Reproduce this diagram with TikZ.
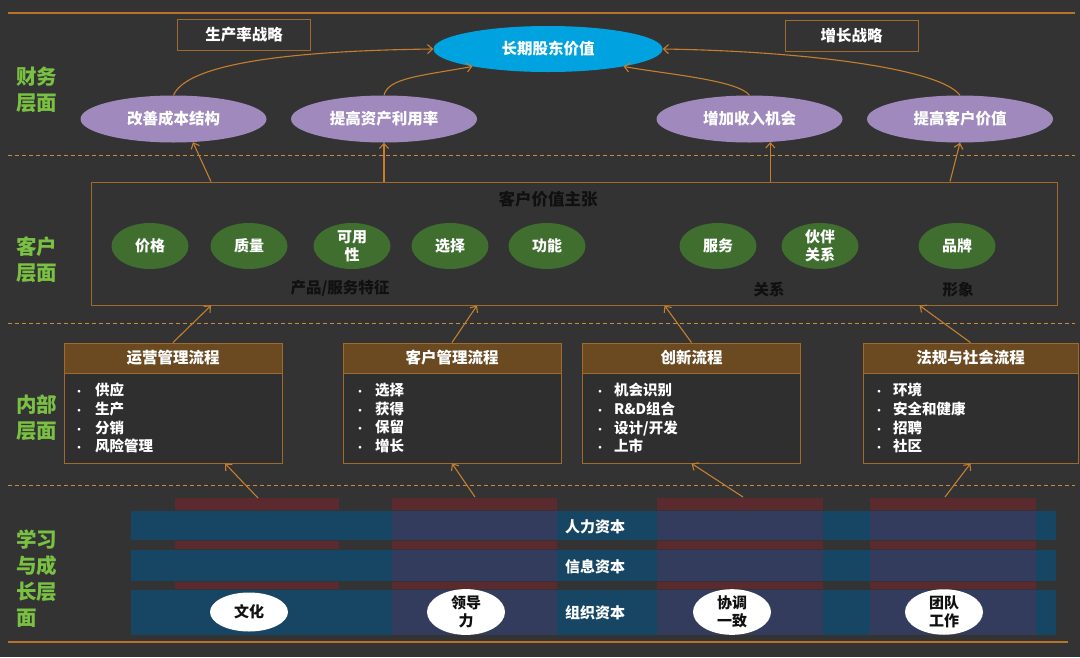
\documentclass[tikz,border=0pt]{standalone}
\usepackage{fontspec}
\setmainfont{Noto Sans CJK SC}
\usetikzlibrary{shapes.geometric,arrows.meta,calc}
\definecolor{bgC}{HTML}{333333}
\definecolor{lineC}{HTML}{B8732B}
\definecolor{dashC}{HTML}{C98A3E}
\definecolor{arrC}{HTML}{C47E2E}
\definecolor{cyanC}{HTML}{00A3E0}
\definecolor{purpC}{HTML}{9F89BD}
\definecolor{greenC}{HTML}{3F6E2F}
\definecolor{labC}{HTML}{7AC143}
\definecolor{headC}{HTML}{6B4A22}
\definecolor{boxC}{HTML}{A06A2C}
\definecolor{bodyC}{HTML}{2F2F2F}
\definecolor{tealC}{HTML}{164664}
\definecolor{violC}{HTML}{343C5E}
\definecolor{redC}{HTML}{5A2A2E}
\definecolor{darkT}{HTML}{101010}
\newcommand{\bitem}[1]{\makebox[#1][l]{\hspace{2pt}{\fontsize{10}{10}\selectfont •}}}
\begin{document}
\begin{tikzpicture}[x=1pt,y=-1pt,
  every node/.style={font=\bfseries},
  layerlab/.style={anchor=west,align=left,text=labC,inner sep=0,font=\bfseries\fontsize{20.5}{26}\selectfont},
  strat/.style={draw=boxC,line width=0.9pt,minimum width=133pt,minimum height=31pt,inner sep=0,text=white,font=\bfseries\fontsize{15.5}{18}\selectfont},
  finell/.style={ellipse,fill=purpC,text=white,minimum width=186pt,minimum height=47pt,inner sep=0,font=\bfseries\fontsize{15.5}{18}\selectfont},
  valell/.style={ellipse,fill=greenC,text=white,minimum width=77pt,minimum height=46pt,inner sep=0,align=center,font=\bfseries\fontsize{15}{18}\selectfont},
  darklab/.style={text=darkT,inner sep=0,font=\bfseries\fontsize{15.5}{18}\selectfont},
  procbox/.style={draw=boxC,line width=0.9pt,fill=bodyC,minimum width=218pt,minimum height=120pt,inner sep=0},
  prochead/.style={draw=boxC,line width=0.9pt,fill=headC,minimum width=218pt,minimum height=30pt,inner sep=0,text=white,font=\bfseries\fontsize{15.5}{18}\selectfont},
  bullets/.style={anchor=north west,align=left,inner sep=0,text=white,font=\bfseries\fontsize{14.5}{18.7}\selectfont},
  rowlab/.style={text=white,inner sep=0,font=\bfseries\fontsize{15}{18}\selectfont},
  capell/.style={ellipse,fill=white,text=darkT,minimum width=78pt,minimum height=39pt,inner sep=0,align=center,font=\bfseries\fontsize{15}{18}\selectfont},
  conn/.style={draw=arrC,line width=1.1pt,-{Straight Barb[length=5pt,width=9pt]}},
  sepline/.style={draw=dashC,line width=0.9pt,dash pattern=on 4pt off 3pt}
]
\useasboundingbox (0,0) rectangle (1080,657);
\fill[bgC] (0,0) rectangle (1080,657);

% separators
\draw[lineC,line width=1.2pt] (8,13) -- (1075,13);
\draw[sepline] (8,155) -- (1075,155);
\draw[sepline] (8,323) -- (1075,323);
\draw[sepline] (8,485) -- (1075,485);
\draw[lineC,line width=1.2pt] (8,642) -- (1068,642);

% layer labels
\node[layerlab] (lf) at (16,90) {财务\\层面};
\node[layerlab] (lc) at (16,260) {客户\\层面};
\node[layerlab] (li) at (16,417.5) {内部\\层面};
\node[layerlab] (ll) at (16,578.5) {学习\\与成\\长层\\面};

% finance
\node[strat] (prod) at (244,35) {生产率战略};
\node[strat] (grow) at (851.5,35.5) {增长战略};
\node[ellipse,fill=cyanC,text=white,minimum width=229pt,minimum height=46pt,inner sep=0,font=\bfseries\fontsize{15.5}{18}\selectfont] (lsv) at (548,49) {长期股东价值};
\node[finell] (cost) at (173.5,119) {改善成本结构};
\node[finell] (asset) at (384,119) {提高资产利用率};
\node[finell] (rev) at (749.5,119) {增加收入机会};
\node[finell] (cval) at (960,119) {提高客户价值};

\draw[conn] (cost.north) .. controls (185,68) and (265,51) .. (lsv.west);
\draw[conn] (asset.north) .. controls (388,78) and (420,76) .. (lsv.-167);
\draw[conn] (rev.north) .. controls (738,80) and (665,74) .. (lsv.-13);
\draw[conn] (cval.north) .. controls (940,68) and (800,51) .. (lsv.east);

% customer
\node[draw=boxC,line width=0.9pt,minimum width=966pt,minimum height=123pt,inner sep=0] (cvp) at (574,243.5) {};
\node[darklab,font=\bfseries\fontsize{16.5}{18}\selectfont] (cvpt) at (548,199) {客户价值主张};
\node[valell] (v1) at (150,246) {价格};
\node[valell] (v2) at (249,246) {质量};
\node[valell] (v3) at (352,246) {可用\\性};
\node[valell] (v4) at (450,246) {选择};
\node[valell] (v5) at (547,246) {功能};
\node[valell] (v6) at (718,246) {服务};
\node[valell] (v7) at (820,246) {伙伴\\关系};
\node[valell] (v8) at (957,246) {品牌};
\node[darklab] (g1) at (340,288) {产品/服务特征};
\node[darklab] (g2) at (769,290) {关系};
\node[darklab] (g3) at (958,290) {形象};

\draw[conn] ($(cost.-50 |- cvp.north)+(18,0)$) -- (cost.-50);
\draw[conn] (asset.south |- cvp.north) -- (asset.south);
\draw[conn] (rev.-48 |- cvp.north) -- (rev.-48);
\draw[conn] ($(cval.south |- cvp.north)+(-10,0)$) -- (cval.south);

% internal processes
\node[procbox] (ops) at (173,403) {};
\node[procbox] (cus) at (452,403) {};
\node[procbox] (inn) at (691.5,403) {};
\node[procbox,minimum width=215pt] (reg) at (970.5,403) {};
\node[prochead] (opsh) at (173,358) {运营管理流程};
\node[prochead] (cush) at (452,358) {客户管理流程};
\node[prochead] (innh) at (691.5,358) {创新流程};
\node[prochead,minimum width=215pt] (regh) at (970.5,358) {法规与社会流程};
\node[bullets] (opsb) at (72,383) {\bitem{23pt}供应\\\bitem{23pt}生产\\\bitem{23pt}分销\\\bitem{23pt}风险管理};
\node[bullets] (cusb) at (353,383) {\bitem{22pt}选择\\\bitem{22pt}获得\\\bitem{22pt}保留\\\bitem{22pt}增长};
\node[bullets] (innb) at (593,383) {\bitem{21pt}机会识别\\\bitem{21pt}R\&D组合\\\bitem{21pt}设计/开发\\\bitem{21pt}上市};
\node[bullets] (regb) at (872,383) {\bitem{21pt}环境\\\bitem{21pt}安全和健康\\\bitem{21pt}招聘\\\bitem{21pt}社区};

\draw[conn] (ops.north) -- ($(ops.north |- cvp.south)+(38,0)$);
\draw[conn] (cus.north) -- ($(cus.north |- cvp.south)+(25,0)$);
\draw[conn] (inn.north) -- ($(inn.north |- cvp.south)+(-27,0)$);
\draw[conn] (reg.north) -- ($(reg.north |- cvp.south)+(-51,0)$);

% learning and growth
\foreach \ya/\yb in {511/540,550/581,590/635}{
  \fill[tealC] (131,\ya) rectangle (1056,\yb);
  \foreach \xa/\xb in {392/557,657/823,870/1036}{
    \fill[violC] (\xa,\ya) rectangle (\xb,\yb);
  }
}
\foreach \xa/\xb in {175/339,392/557,657/823,870/1036}{
  \fill[redC] (\xa,498) rectangle (\xb,510);
  \fill[redC] (\xa,541) rectangle (\xb,549);
  \fill[redC] (\xa,582) rectangle (\xb,589);
}
\node[rowlab] (hc) at (595,527) {人力资本};
\node[rowlab] (ic) at (595,567) {信息资本};
\node[rowlab] (oc) at (595,613) {组织资本};
\node[capell] (k1) at (249,612) {文化};
\node[capell] (k2) at (466,612) {领导\\力};
\node[capell] (k3) at (732,612) {协调\\一致};
\node[capell] (k4) at (944,612) {团队\\工作};

\coordinate (s1) at (258,498);
\coordinate (s2) at (475,497);
\coordinate (s3) at (743,497);
\coordinate (s4) at (945,497);
\draw[conn] (s1) -- ($(ops.south)+(52,0)$);
\draw[conn] (s2) -- (cus.south);
\draw[conn] (s3) -- (inn.south);
\draw[conn] (s4) -- (reg.south);
\end{tikzpicture}
\end{document}
